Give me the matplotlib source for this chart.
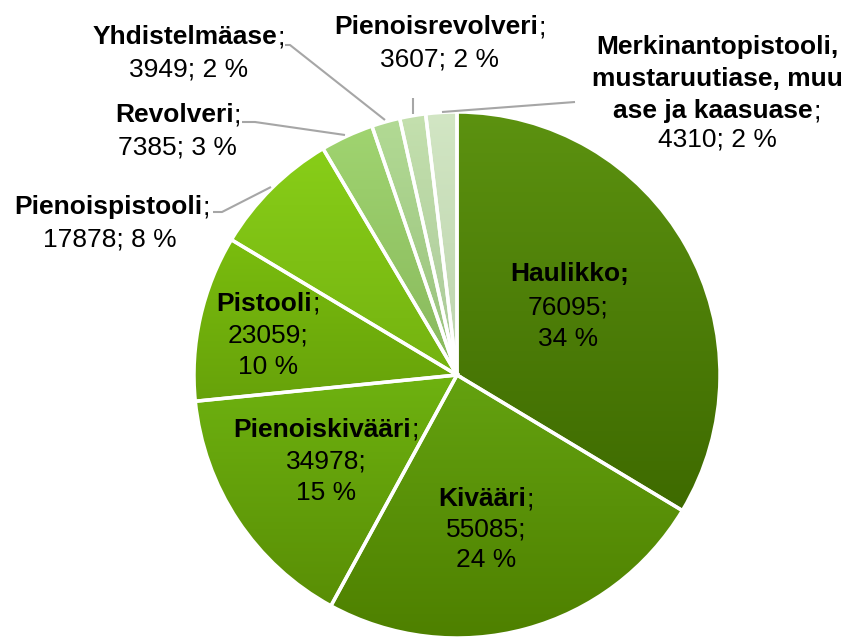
import numpy as np
import matplotlib
matplotlib.use("Agg")
import matplotlib.pyplot as plt
from matplotlib.colors import to_rgb

categories = ["Haulikko", "Kivääri", "Pienoiskivääri", "Pistooli", "Pienoispistooli",
              "Revolveri", "Yhdistelmäase", "Pienoisrevolveri",
              "Merkinantopistooli, mustaruutiase, muu ase ja kaasuase"]
values = [76095, 55085, 34978, 23059, 17878, 7385, 3949, 3607, 4310]

top_colors = ["#5c9210", "#64a210", "#6eb210", "#7abd0e", "#88ce18",
              "#a0d470", "#b2da94", "#c4e0ae", "#d2e6c4"]
bot_colors = ["#3e6a00", "#4e8000", "#598e05", "#67a20a", "#74b210",
              "#88b85c", "#98c07c", "#a8c896", "#bcd4ac"]

W, H = 850, 639
FONT = "Liberation Sans"
FS = 19

fig = plt.figure(figsize=(W / 100, H / 100), dpi=100)
ax = fig.add_axes([0, 0, 1, 1])
ax.set_xlim(0, W)
ax.set_ylim(0, H)
ax.set_aspect("equal")
ax.axis("off")

cx, cy, R = 457, H - 375, 263
wedges, _ = ax.pie(values, startangle=90, counterclock=False, center=(cx, cy),
                   radius=R, frame=True,
                   wedgeprops=dict(edgecolor="white", linewidth=2.5))
ax.set_xlim(0, W)
ax.set_ylim(0, H)
ax.axis("off")

for w, ct, cb in zip(wedges, top_colors, bot_colors):
    ext = w.get_path().get_extents()
    n = 256
    t = np.linspace(0, 1, n)[:, None]
    c1, c2 = np.array(to_rgb(ct)), np.array(to_rgb(cb))
    grad = (c1[None, :] * (1 - t) + c2[None, :] * t)[:, None, :]
    im = ax.imshow(grad, extent=[ext.x0, ext.x1, ext.y0, ext.y1], origin="upper",
                   aspect="auto", interpolation="bilinear", zorder=0.5)
    im.set_clip_path(w)
    w.set_facecolor("none")
    w.set_zorder(1)

ax.set_xlim(0, W)
ax.set_ylim(0, H)

total = sum(values)
pcts = [round(v / total * 100) for v in values]

renderer = fig.canvas.get_renderer()


def line(xc, yc, bold, reg=""):
    y = H - (yc + 9)
    tb = ax.text(0, y, bold, fontsize=FS, fontweight="bold", family=FONT,
                 ha="left", va="baseline", zorder=3)
    wb = tb.get_window_extent(renderer).width
    wr = 0
    tr = None
    if reg:
        tr = ax.text(0, y, reg, fontsize=FS, family=FONT, ha="left", va="baseline", zorder=3)
        wr = tr.get_window_extent(renderer).width
    x0 = xc - (wb + wr) / 2
    tb.set_x(x0)
    if tr is not None:
        tr.set_x(x0 + wb)


def plain(xc, yc, s):
    ax.text(xc, H - (yc + 9), s, fontsize=FS, family=FONT, ha="center",
            va="baseline", zorder=3)


# Haulikko
line(570, 272, f"{categories[0]};")
plain(568, 305, f"{values[0]};")
plain(568, 337, f"{pcts[0]} %")
# Kivääri
line(486, 497, categories[1], ";")
plain(486, 528, f"{values[1]};")
plain(486, 558, f"{pcts[1]} %")
# Pienoiskivääri
line(326, 428, categories[2], ";")
plain(326, 460, f"{values[2]};")
plain(326, 491, f"{pcts[2]} %")
# Pistooli
line(268, 302, categories[3], ";")
plain(268, 334, f"{values[3]};")
plain(268, 365, f"{pcts[3]} %")
# Pienoispistooli
line(112, 205, categories[4], ";")
plain(110, 238, f"{values[4]}; {pcts[4]} %")
# Revolveri
line(178, 113, categories[5], ";")
plain(177, 145, f"{values[5]}; {pcts[5]} %")
# Yhdistelmäase
line(189, 35, categories[6], ";")
plain(189, 67, f"{values[6]}; {pcts[6]} %")
# Pienoisrevolveri
line(440, 25, categories[7], ";")
plain(440, 57, f"{values[7]}; {pcts[7]} %")
# Merkinanto
line(717, 45, "Merkinantopistooli,")
line(717, 77, "mustaruutiase, muu")
line(717, 109, "ase ja kaasuase", ";")
plain(717, 137, f"{values[8]}; {pcts[8]} %")

# leader lines (pixel coords)
leaders = [
    [(213, 212), (222, 212), (271, 187)],
    [(242, 122), (255, 122), (345, 135)],
    [(285, 45), (290, 45), (385, 120)],
    [(413, 98), (413, 114)],
    [(575, 102), (442, 112)],
]
for pts in leaders:
    xs = [p[0] for p in pts]
    ys = [H - p[1] for p in pts]
    ax.plot(xs, ys, color="#a6a6a6", lw=1.5, zorder=2, solid_capstyle="butt")

fig.savefig("out.png", dpi=100)
